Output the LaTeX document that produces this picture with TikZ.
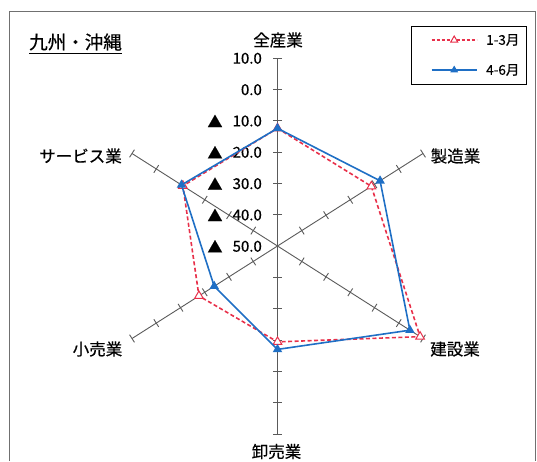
\documentclass[tikz,border=0pt]{standalone}
\usepackage{fontspec}
\setmainfont{Noto Sans CJK JP}[FakeBold=0.5]
\usetikzlibrary{calc,shapes.geometric}
\definecolor{serA}{HTML}{E8304A}
\definecolor{serB}{HTML}{1F6FC5}
\definecolor{axisgray}{HTML}{5A5A5A}
\definecolor{framegray}{HTML}{707070}
\begin{document}
\begin{tikzpicture}[x=1pt,y=-1pt,
  axisline/.style={draw=axisgray,line width=0.9pt},
  tickmark/.style={draw=axisgray,line width=0.9pt},
  catlabel/.style={font=\fontsize{16.5}{18}\selectfont,inner sep=0pt},
  vallabel/.style={font=\fontsize{15}{17}\selectfont,inner sep=0pt,anchor=east},
  trilabel/.style={font=\fontsize{15}{17}\selectfont,inner sep=0pt},
  legtext/.style={font=\fontsize{13.5}{15}\selectfont,inner sep=0pt,anchor=west},
  serieslineA/.style={draw=serA,line width=1.6pt,dash pattern=on 4pt off 2.5pt,line join=round},
  serieslineB/.style={draw=serB,line width=1.6pt,line join=round},
  markA/.style={regular polygon,regular polygon sides=3,draw=serA,fill=white,line width=1pt,minimum size=10pt,inner sep=0pt},
  markB/.style={regular polygon,regular polygon sides=3,fill=serB,minimum size=11pt,inner sep=0pt},
]
\useasboundingbox (0,0) rectangle (537,461);
% frame
\draw[framegray,line width=1.1pt] (9.3,461) -- (9.3,11.7) -- (535.5,11.7) -- (535.5,461);
% title
\node[font=\fontsize{18.5}{20}\selectfont,inner sep=0pt] (title) at (75.5,42) {九州・沖縄};
\draw[line width=0.9pt] ($(title.south west)+(0,3)$) -- ($(title.south east)+(0,3)$);
% axes
\coordinate (c) at (277.5,246);
\coordinate (e1) at (277.5,58);
\coordinate (e2) at (423,153.5);
\coordinate (e3) at (423,338.5);
\coordinate (e4) at (277.5,434);
\coordinate (e5) at (132,338.5);
\coordinate (e6) at (132,153.5);
\draw[axisline] (e1) -- (e4);
\draw[axisline] (e2) -- (e5);
\draw[axisline] (e3) -- (e6);
\foreach \e in {e1,e2,e3,e4,e5,e6}{
  \foreach \k in {1,...,6}{
    \path ($(c)!\k/6!(\e)$) coordinate (tp);
    \draw[tickmark] ($(tp)!4.5pt!90:(c)$) -- ($(tp)!4.5pt!-90:(c)$);
  }
}
% value labels
\node[vallabel] (v1) at (262,58.3) {10.0};
\node[vallabel] (v2) at (262,89.7) {0.0};
\node[vallabel] (v3) at (262,121) {10.0};
\node[vallabel] (v4) at (262,152.3) {20.0};
\node[vallabel] (v5) at (262,183.7) {30.0};
\node[vallabel] (v6) at (262,215) {40.0};
\node[vallabel] (v7) at (262,246.3) {50.0};
\node[trilabel] (m3) at (215,121) {▲};
\node[trilabel] (m4) at (215,152.3) {▲};
\node[trilabel] (m5) at (215,183.7) {▲};
\node[trilabel] (m6) at (215,215) {▲};
\node[trilabel] (m7) at (215,246.3) {▲};
% category labels
\node[catlabel] (l1) at (278,40) {全産業};
\node[catlabel] (l2) at (455.5,156) {製造業};
\node[catlabel] (l3) at (455,349) {建設業};
\node[catlabel] (l4) at (276.5,451.5) {卸売業};
\node[catlabel] (l5) at (97.5,349) {小売業};
\node[catlabel] (l6) at (80.5,156) {サービス業};
% data
\coordinate (a1) at ($(c)!0.626!(e1)$);
\coordinate (a2) at ($(c)!0.645!(e2)$);
\coordinate (a3) at ($(c)!0.98!(e3)$);
\coordinate (a4) at ($(c)!0.51!(e4)$);
\coordinate (a5) at ($(c)!0.54!(e5)$);
\coordinate (a6) at ($(c)!0.65!(e6)$);
\coordinate (b1) at ($(c)!0.626!(e1)$);
\coordinate (b2) at ($(c)!0.705!(e2)$);
\coordinate (b3) at ($(c)!0.91!(e3)$);
\coordinate (b4) at ($(c)!0.55!(e4)$);
\coordinate (b5) at ($(c)!0.435!(e5)$);
\coordinate (b6) at ($(c)!0.66!(e6)$);
\draw[serieslineA] (a1) -- (a2) -- (a3) -- (a4) -- (a5) -- (a6) -- cycle;
\foreach \p in {a1,a2,a3,a4,a5,a6}{\node[markA] at (\p) {};}
\draw[serieslineB] (b1) -- (b2) -- (b3) -- (b4) -- (b5) -- (b6) -- cycle;
\foreach \p in {b1,b2,b3,b4,b5,b6}{\node[markB] at (\p) {};}
% legend
\draw[line width=0.9pt] (411.7,26.7) rectangle (526,84);
\coordinate (la1) at (431.7,40);
\coordinate (la2) at (476.7,40);
\coordinate (lb1) at (431.7,70);
\coordinate (lb2) at (476.7,70);
\draw[serA,line width=1.2pt,dash pattern=on 3pt off 2pt] (la1) -- (la2);
\node[markA,minimum size=8pt] (lma) at ($(la1)!0.5!(la2)$) {};
\draw[serB,line width=1.4pt] (lb1) -- (lb2);
\node[markB,minimum size=9pt] (lmb) at ($(lb1)!0.5!(lb2)$) {};
\node[legtext] (lt1) at (486,40) {1-3月};
\node[legtext] (lt2) at (486,70) {4-6月};
\end{tikzpicture}
\end{document}
